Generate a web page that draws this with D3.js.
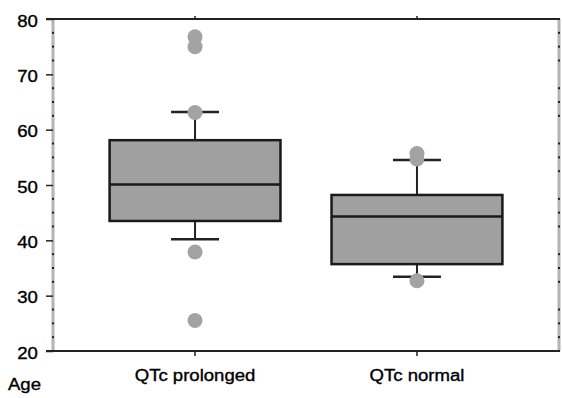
<!DOCTYPE html>
<html>
<head>
<meta charset="utf-8">
<script src="https://cdn.jsdelivr.net/npm/d3@7"></script>
<style>
  body { margin: 0; background: #fff; }
  text { font-family: "Liberation Sans", Arial, sans-serif; font-size: 16px; fill: #000; stroke: #000; stroke-width: 0.35px; }
</style>
</head>
<body>
<div id="chart"></div>
<script>
var svgWidth = 562;
var svgHeight = 398;

// box plot values
var categories = ["QTc prolonged", "QTc normal"];
var whiskerLow = [40.2, 33.4];
var q1 = [43.5, 35.7];
var median = [50.1, 44.3];
var q3 = [58.1, 48.2];
var whiskerHigh = [63.2, 54.5];
var outliersProlonged = [76.8, 75.0, 63.1, 37.9, 25.5];
var outliersNormal = [55.7, 54.7, 32.7];
var yTicks = [20, 30, 40, 50, 60, 70, 80];
var minorTicks = d3.range(20, 80.1, 2.5).filter(d => d % 10 !== 0);

var plotLeft = 53, plotRight = 559, plotTop = 19, plotBottom = 351;
var stretch = 1.16;

var svg = d3.select("#chart")
  .append("svg")
  .attr("width", svgWidth)
  .attr("height", svgHeight);

var yScale = d3.scaleLinear()
  .domain([20, 80])
  .range([plotBottom, plotTop]);

var xScale = d3.scalePoint()
  .domain(categories)
  .range([plotLeft, plotRight])
  .padding(0.64);

var step = xScale.step();
var boxW = step * 0.77;
var capW = step * 0.216;

var boxes = categories.map(function(c, i) {
  return {
    cat: c, lo: whiskerLow[i], q1: q1[i], med: median[i], q3: q3[i], hi: whiskerHigh[i],
    outliers: i === 0 ? outliersProlonged : outliersNormal
  };
});

// left and right frame: grey bands with dotted minor ticks
[plotLeft, plotRight].forEach(function(x) {
  svg.append("line")
    .attr("x1", x).attr("x2", x)
    .attr("y1", plotTop).attr("y2", plotBottom)
    .attr("stroke", "#b4b4b4")
    .attr("stroke-width", 3);

  svg.selectAll(null)
    .data(minorTicks)
    .enter()
    .append("rect")
    .attr("x", x - 1)
    .attr("y", d => yScale(d) - 1)
    .attr("width", 2)
    .attr("height", 2)
    .attr("fill", "#222");
});

// top and bottom frame lines
[plotTop, plotBottom].forEach(function(y) {
  svg.append("line")
    .attr("x1", plotLeft - 7).attr("x2", plotRight + 1)
    .attr("y1", y).attr("y2", y)
    .attr("stroke", "#222")
    .attr("stroke-width", 2);
});

// y axis
var yAxis = svg.append("g")
  .attr("transform", `translate(${plotLeft}, 0)`)
  .call(d3.axisLeft(yScale).tickValues(yTicks).tickSize(7).tickPadding(6));

yAxis.select(".domain").remove();
yAxis.attr("font-size", null).attr("font-family", null);
yAxis.selectAll("line").attr("stroke", "#222").attr("stroke-width", 1.5);
yAxis.selectAll("text")
  .attr("dy", "0.45em")
  .attr("transform", `scale(${stretch},1)`);

// category ticks on top and bottom
svg.selectAll(null)
  .data(categories)
  .enter()
  .append("line")
  .attr("x1", d => xScale(d)).attr("x2", d => xScale(d))
  .attr("y1", plotBottom).attr("y2", plotBottom + 5)
  .attr("stroke", "#222")
  .attr("stroke-width", 1.5);

svg.selectAll(null)
  .data(categories)
  .enter()
  .append("line")
  .attr("x1", d => xScale(d)).attr("x2", d => xScale(d))
  .attr("y1", plotTop - 3).attr("y2", plotTop)
  .attr("stroke", "#222")
  .attr("stroke-width", 1.5);

// category labels
svg.selectAll(null)
  .data(categories)
  .enter()
  .append("text")
  .attr("transform", d => `translate(${xScale(d)}, 381) scale(${stretch},1)`)
  .attr("text-anchor", "middle")
  .text(d => d);

svg.append("text")
  .attr("transform", `translate(8, 390) scale(${stretch},1)`)
  .text("Age");

// whiskers
var g = svg.selectAll(".box")
  .data(boxes)
  .enter()
  .append("g")
  .attr("class", "box");

g.append("line")
  .attr("x1", d => xScale(d.cat)).attr("x2", d => xScale(d.cat))
  .attr("y1", d => yScale(d.lo)).attr("y2", d => yScale(d.hi))
  .attr("stroke", "#222")
  .attr("stroke-width", 2);

["lo", "hi"].forEach(function(k) {
  g.append("line")
    .attr("x1", d => xScale(d.cat) - capW / 2).attr("x2", d => xScale(d.cat) + capW / 2)
    .attr("y1", d => yScale(d[k])).attr("y2", d => yScale(d[k]))
    .attr("stroke", "#222")
    .attr("stroke-width", 2.5);
});

// boxes
g.append("rect")
  .attr("x", d => xScale(d.cat) - boxW / 2)
  .attr("y", d => yScale(d.q3))
  .attr("width", boxW)
  .attr("height", d => yScale(d.q1) - yScale(d.q3))
  .attr("fill", "#a0a0a0")
  .attr("stroke", "#1a1a1a")
  .attr("stroke-width", 2.5);

g.append("line")
  .attr("x1", d => xScale(d.cat) - boxW / 2).attr("x2", d => xScale(d.cat) + boxW / 2)
  .attr("y1", d => yScale(d.med)).attr("y2", d => yScale(d.med))
  .attr("stroke", "#1a1a1a")
  .attr("stroke-width", 2.5);

// outliers
g.selectAll("circle")
  .data(d => d.outliers.map(v => ({ cat: d.cat, v: v })))
  .enter()
  .append("circle")
  .attr("cx", d => xScale(d.cat))
  .attr("cy", d => yScale(d.v))
  .attr("r", 7.5)
  .attr("fill", "#a3a3a3");
</script>
</body>
</html>
